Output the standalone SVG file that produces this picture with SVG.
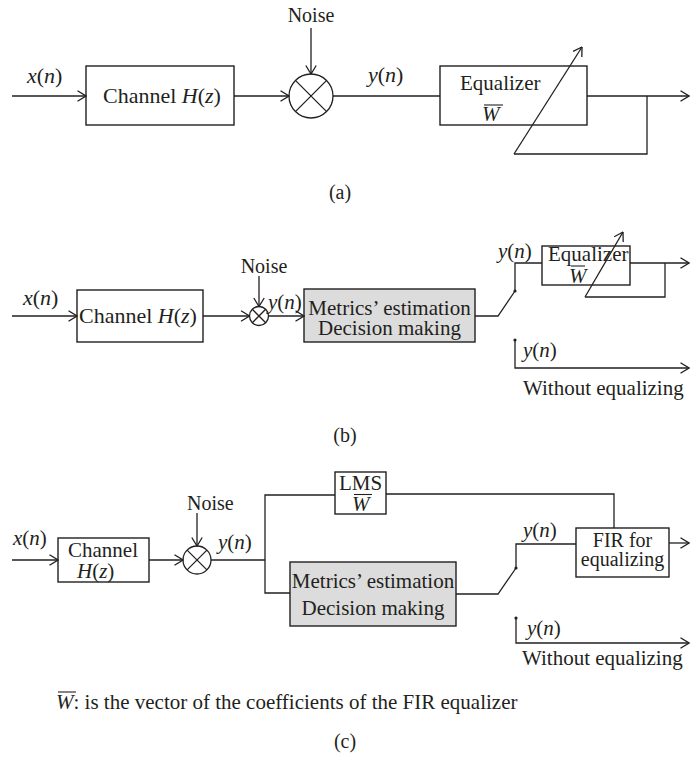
<svg xmlns="http://www.w3.org/2000/svg" width="690" height="758" viewBox="0 0 690 758">
  <defs>
    <marker id="arr" viewBox="0 0 10 12" refX="9.5" refY="6" markerWidth="10" markerHeight="12" markerUnits="userSpaceOnUse" orient="auto">
      <path d="M1,0.8 L9.5,6 L1,11.2" fill="none" stroke="#231f20" stroke-width="1.3"/>
    </marker>
    <style>
      .ln { stroke:#231f20; stroke-width:1.3; fill:none; }
      .ol { stroke:#231f20; stroke-width:1.1; fill:none; }
      .bx { fill:#ffffff; stroke:#231f20; stroke-width:1.4; }
      .gr { fill:#dcdcdc; stroke:#231f20; stroke-width:1.4; }
      .t { font-family:"Liberation Serif", "Times New Roman", serif; font-size:21px; fill:#231f20; }
      .s20 { font-size:20px; }
      .s22 { font-size:22px; }
      .i { font-style:italic; }
      .m { text-anchor:middle; }
      .dot { fill:#231f20; }
    </style>
  </defs>

  <!-- ===== Panel (a) ===== -->
  <g id="a-channel">
    <rect class="bx" x="86" y="66" width="148" height="59"/>
    <text class="t s22" x="103" y="103">Channel <tspan class="i">H</tspan>(<tspan class="i">z</tspan>)</text>
  </g>
  <g id="a-mixer">
    <circle class="ln" cx="311" cy="96" r="22"/>
    <path class="ln" d="M295.4,80.4 L326.6,111.6 M326.6,80.4 L295.4,111.6"/>
    <text class="t s20 m" x="311" y="22">Noise</text>
  </g>
  <g id="a-equalizer">
    <rect class="bx" x="440" y="66" width="147" height="59"/>
    <text class="t" x="460" y="90">Equalizer</text>
    <text class="t i" x="482" y="121">W</text>
    <line class="ol" x1="484" y1="105" x2="503" y2="105"/>
  </g>
  <g id="a-connectors">
    <line class="ln" x1="12" y1="96" x2="86" y2="96" marker-end="url(#arr)"/>
    <line class="ln" x1="234" y1="96" x2="289" y2="96" marker-end="url(#arr)"/>
    <line class="ln" x1="311" y1="28" x2="311" y2="74" marker-end="url(#arr)"/>
    <line class="ln" x1="333" y1="96" x2="440" y2="96"/>
    <line class="ln" x1="587" y1="96" x2="689" y2="96" marker-end="url(#arr)"/>
    <polyline class="ln" points="647,96 647,154 514,154"/>
    <line class="ln" x1="514" y1="154" x2="582" y2="47" marker-end="url(#arr)"/>
  </g>
  <g id="a-labels">
    <text class="t s22" x="27" y="83"><tspan class="i">x</tspan>(<tspan class="i">n</tspan>)</text>
    <text class="t s22" x="368" y="82"><tspan class="i">y</tspan>(<tspan class="i">n</tspan>)</text>
    <text class="t s20 m" x="340" y="199">(a)</text>
  </g>

  <!-- ===== Panel (b) ===== -->
  <g id="b-channel">
    <rect class="bx" x="77" y="290" width="126" height="52"/>
    <text class="t s22" x="79" y="323">Channel <tspan class="i">H</tspan>(<tspan class="i">z</tspan>)</text>
  </g>
  <g id="b-mixer">
    <circle class="ln" cx="259" cy="316" r="9.5"/>
    <path class="ln" d="M252.3,309.3 L265.7,322.7 M265.7,309.3 L252.3,322.7"/>
    <text class="t s20 m" x="264" y="273">Noise</text>
  </g>
  <g id="b-decision">
    <rect class="gr" x="304" y="289" width="171" height="53"/>
    <text class="t m" x="389.5" y="315">Metrics’ estimation</text>
    <text class="t m" x="389.5" y="335">Decision making</text>
  </g>
  <g id="b-equalizer">
    <rect class="bx" x="542" y="246" width="88" height="39"/>
    <text class="t" x="548" y="261">Equalizer</text>
    <text class="t i" x="569" y="283">W</text>
    <line class="ol" x1="571" y1="266" x2="585" y2="266"/>
  </g>
  <g id="b-connectors">
    <line class="ln" x1="12" y1="316" x2="77" y2="316" marker-end="url(#arr)"/>
    <line class="ln" x1="203" y1="316" x2="249.5" y2="316" marker-end="url(#arr)"/>
    <line class="ln" x1="259" y1="276" x2="259" y2="306.5" marker-end="url(#arr)"/>
    <line class="ln" x1="268.5" y1="316" x2="304" y2="316" marker-end="url(#arr)"/>
    <polyline class="ln" points="475,316 498,316 515,291"/>
    <circle class="dot" cx="515" cy="291" r="1.6"/>
    <polyline class="ln" points="515,291 515,263 542,263"/>
    <line class="ln" x1="630" y1="263" x2="689" y2="263" marker-end="url(#arr)"/>
    <polyline class="ln" points="665,263 665,297 585,297"/>
    <line class="ln" x1="585" y1="297" x2="623" y2="232" marker-end="url(#arr)"/>
    <circle class="dot" cx="515" cy="340" r="1.6"/>
    <polyline class="ln" points="515,340 515,368 689,368" marker-end="url(#arr)"/>
  </g>
  <g id="b-labels">
    <text class="t s22" x="23" y="305"><tspan class="i">x</tspan>(<tspan class="i">n</tspan>)</text>
    <text class="t" x="268" y="309"><tspan class="i">y</tspan>(<tspan class="i">n</tspan>)</text>
    <text class="t" x="498" y="258"><tspan class="i">y</tspan>(<tspan class="i">n</tspan>)</text>
    <text class="t" x="523" y="357"><tspan class="i">y</tspan>(<tspan class="i">n</tspan>)</text>
    <text class="t" x="523" y="395">Without equalizing</text>
    <text class="t s20 m" x="345" y="442">(b)</text>
  </g>

  <!-- ===== Panel (c) ===== -->
  <g id="c-channel">
    <rect class="bx" x="58" y="538" width="91" height="44"/>
    <text class="t" x="68" y="557">Channel</text>
    <text class="t" x="77" y="578"><tspan class="i">H</tspan>(<tspan class="i">z</tspan>)</text>
  </g>
  <g id="c-mixer">
    <circle class="ln" cx="197" cy="560" r="14"/>
    <path class="ln" d="M187.1,550.1 L206.9,569.9 M206.9,550.1 L187.1,569.9"/>
    <text class="t s20" x="187" y="510">Noise</text>
  </g>
  <g id="c-lms">
    <rect class="bx" x="335" y="472" width="51" height="42"/>
    <text class="t m" x="360.5" y="490">LMS</text>
    <text class="t i" x="352" y="511">W</text>
    <line class="ol" x1="354" y1="494.5" x2="372" y2="494.5"/>
  </g>
  <g id="c-decision">
    <rect class="gr" x="290" y="562" width="166" height="64"/>
    <text class="t m" x="373" y="588">Metrics’ estimation</text>
    <text class="t m" x="373" y="615">Decision making</text>
  </g>
  <g id="c-fir">
    <rect class="bx" x="576" y="528" width="93" height="49"/>
    <text class="t s20 m" x="622.5" y="547">FIR for</text>
    <text class="t s20 m" x="622.5" y="566">equalizing</text>
  </g>
  <g id="c-connectors">
    <line class="ln" x1="12" y1="560" x2="58" y2="560" marker-end="url(#arr)"/>
    <line class="ln" x1="149" y1="560" x2="183" y2="560" marker-end="url(#arr)"/>
    <line class="ln" x1="197" y1="513" x2="197" y2="546" marker-end="url(#arr)"/>
    <line class="ln" x1="211" y1="560" x2="265" y2="560"/>
    <polyline class="ln" points="335,495 265,495 265,593 290,593"/>
    <polyline class="ln" points="386,494 614,494 614,528"/>
    <polyline class="ln" points="456,594 498,594 516,568"/>
    <circle class="dot" cx="516" cy="568" r="1.6"/>
    <polyline class="ln" points="516,568 516,544 576,544"/>
    <line class="ln" x1="669" y1="543" x2="689" y2="543" marker-end="url(#arr)"/>
    <circle class="dot" cx="516" cy="618" r="1.6"/>
    <polyline class="ln" points="516,618 516,643 689,643" marker-end="url(#arr)"/>
  </g>
  <g id="c-labels">
    <text class="t" x="13" y="545"><tspan class="i">x</tspan>(<tspan class="i">n</tspan>)</text>
    <text class="t" x="218" y="549"><tspan class="i">y</tspan>(<tspan class="i">n</tspan>)</text>
    <text class="t" x="523" y="537"><tspan class="i">y</tspan>(<tspan class="i">n</tspan>)</text>
    <text class="t" x="527" y="635"><tspan class="i">y</tspan>(<tspan class="i">n</tspan>)</text>
    <text class="t" x="522" y="665">Without equalizing</text>
    <text class="t" x="56" y="709"><tspan class="i">W</tspan>: is the vector of the coefficients of the FIR equalizer</text>
    <line class="ol" x1="58" y1="692" x2="76" y2="692"/>
    <text class="t s20 m" x="345" y="748">(c)</text>
  </g>
</svg>
